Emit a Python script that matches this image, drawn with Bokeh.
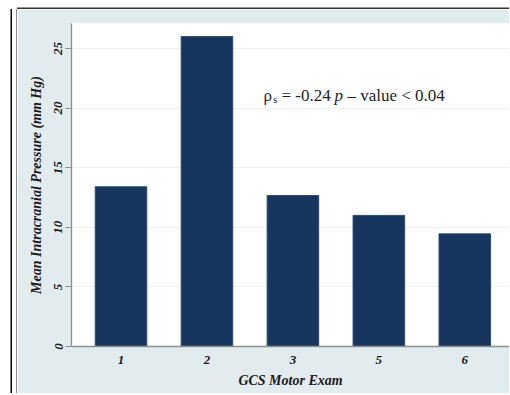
from bokeh.plotting import figure
from bokeh.models import (Range1d, FixedTicker, Label, ColumnDataSource)
from bokeh.embed import file_html
from bokeh.resources import INLINE

# ---- data ----
categories = ["1", "2", "3", "5", "6"]
mean_icp = [13.4, 26.0, 12.67, 11.0, 9.45]
y_ticks = [0, 5, 10, 15, 20, 25]
x_title = "GCS Motor Exam"
y_title = "Mean Intracranial Pressure (mm Hg)"

positions = list(range(1, len(categories) + 1))
src = ColumnDataSource(dict(x=positions, top=mean_icp, cat=categories))

LIGHT = "#e2ebee"
BAR = "#17365d"
SERIF = "Liberation Serif"

p = figure(width=492, height=384, output_backend="svg", toolbar_location=None,
           x_range=Range1d(0.424, 5.52), y_range=Range1d(0, 27.1),
           min_border_left=54, min_border_right=0, min_border_top=14,
           min_border_bottom=47)
p.styles = {
    "margin-left": "17px",
    "margin-top": "9px",
    "box-shadow": "0 -1.5px 0 0 #333333, -1px 0 0 0 #8c8c8c, "
                  "-5px 0 0 0 #ffffff, -6.5px 0 0 0 #000000",
}
p.border_fill_color = LIGHT
p.background_fill_color = "white"
p.outline_line_color = None

p.vbar(x="x", top="top", width=0.6, source=src, fill_color=BAR,
       line_color="#2c4a70", line_width=1)

# axes
p.xaxis.ticker = FixedTicker(ticks=positions)
p.xaxis.major_label_overrides = {pos: c for pos, c in zip(positions, categories)}
p.yaxis.ticker = FixedTicker(ticks=y_ticks)
p.yaxis.major_label_orientation = "vertical"

for ax in (p.xaxis[0], p.yaxis[0]):
    ax.axis_line_color = "#8a8f92"
    ax.axis_line_width = 1.3
    ax.major_label_text_font = SERIF
    ax.major_label_text_font_style = "bold italic"
    ax.major_label_text_font_size = "13px"
    ax.major_label_text_color = "#1a1a1a"
    ax.axis_label_text_font = SERIF
    ax.axis_label_text_font_style = "bold italic"
    ax.axis_label_text_font_size = "14px"
    ax.axis_label_text_color = "#1a1a1a"
    ax.minor_tick_line_color = None

p.xaxis.major_tick_line_color = None
p.xaxis.major_tick_out = 0
p.xaxis.major_label_standoff = 9
p.xaxis.axis_label = x_title
p.xaxis.axis_label_standoff = 6

p.yaxis.major_tick_line_color = "#8a8f92"
p.yaxis.major_tick_out = 6
p.yaxis.major_tick_in = 0
p.yaxis.major_label_standoff = 3
p.yaxis.axis_label = y_title
p.yaxis.axis_label_standoff = 8

p.xgrid.grid_line_color = None
p.ygrid.ticker = FixedTicker(ticks=y_ticks[1:])
p.ygrid.grid_line_color = "#edf1f2"
p.ygrid.grid_line_width = 1.2

# annotation text: rho_s = -0.24 p - value < 0.04
ax0, ay0 = 2.657, 21.1
def lab(text, dx, size="17px", style="normal", dy=0):
    p.add_layout(Label(x=ax0, y=ay0, x_offset=dx, y_offset=dy, text=text,
                       text_font=SERIF, text_font_size=size,
                       text_font_style=style, text_color="#222222",
                       text_baseline="alphabetic"))
lab("ρ", 0)
lab("s", 9.5, size="11px", dy=-4)
lab("= -0.24", 18)
lab("p", 71, style="italic")
lab("– value < 0.04", 84)

# stray dot note below the axis (canvas pixels)
p.add_layout(Label(x=63, y=373, x_units="canvas", y_units="canvas", text=".",
                   text_font=SERIF, text_font_size="16px",
                   text_font_style="bold", text_color="#222222",
                   text_baseline="alphabetic", text_align="center"))

open("out.html", "w").write(file_html(p, INLINE))
